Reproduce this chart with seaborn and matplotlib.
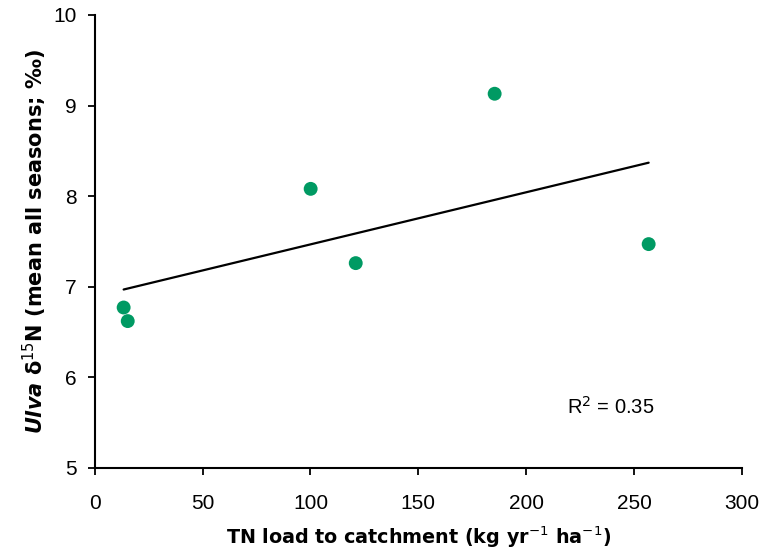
import numpy as np
import pandas as pd
import seaborn as sns
import matplotlib.pyplot as plt

# TN load to catchment vs mean Ulva d15N
tn_load = [13.4, 15.3, 100.1, 121.0, 185.4, 256.8]
ulva_d15n = [6.77, 6.62, 8.08, 7.26, 9.13, 7.47]
x_ticks = [0, 50, 100, 150, 200, 250, 300]
y_ticks = [5, 6, 7, 8, 9, 10]

df = pd.DataFrame({"tn": tn_load, "d15n": ulva_d15n})

sns.set_theme(style="ticks")
plt.rcParams["font.family"] = ["Liberation Sans", "DejaVu Sans"]
plt.rcParams["text.color"] = "black"
plt.rcParams["axes.labelcolor"] = "black"
plt.rcParams["xtick.color"] = "black"
plt.rcParams["ytick.color"] = "black"

fig = plt.figure(figsize=(7.64, 5.53), dpi=100)
ax = fig.add_axes([0.124, 0.154, 0.847, 0.819])

sns.regplot(data=df, x="tn", y="d15n", ci=None, ax=ax, truncate=True,
            scatter_kws=dict(s=100, color="#009A63", alpha=1, edgecolor="none", zorder=3),
            line_kws=dict(color="black", lw=1.6, zorder=2))

slope, intercept = np.polyfit(df["tn"], df["d15n"], 1)
pred = slope * df["tn"] + intercept
r2 = 1 - ((df["d15n"] - pred) ** 2).sum() / ((df["d15n"] - df["d15n"].mean()) ** 2).sum()
ax.text(219, 5.67, f"R$^2$ = {r2:.2f}", fontsize=14.5, ha="left", va="center")

ax.set_xlim(0, 300)
ax.set_ylim(5, 10)
ax.set_xticks(x_ticks)
ax.set_yticks(y_ticks)
ax.tick_params(labelsize=15, length=5, width=1.3, color="black", labelcolor="black")
ax.tick_params(axis="x", pad=14)
ax.tick_params(axis="y", pad=8)
for sp in ("left", "bottom"):
    ax.spines[sp].set_linewidth(1.5)
    ax.spines[sp].set_color("black")
sns.despine(ax=ax)

ax.set_xlabel("TN load to catchment (kg yr$^{\\mathrm{-1}}$ ha$^{\\mathrm{-1}}$)",
              fontsize=13.8, fontweight="bold", family="DejaVu Sans", labelpad=8)
ax.set_ylabel("$\\mathbfit{Ulva}$ δ$^{\\mathrm{15}}$N (mean all seasons; ‰)",
              fontsize=15, fontweight="bold", family="DejaVu Sans", labelpad=3)

fig.savefig("out.png", dpi=100)
